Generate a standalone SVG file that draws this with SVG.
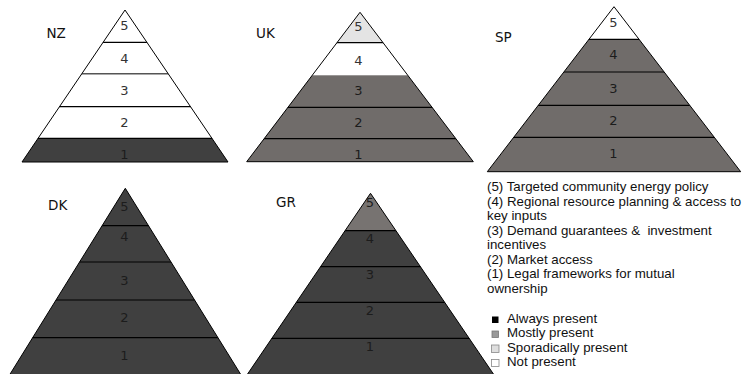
<svg xmlns="http://www.w3.org/2000/svg" width="745" height="374" viewBox="0 0 745 374">
<style>
.w{fill:#ffffff}.d{fill:#404040}.m{fill:#706c6a}.l{fill:#e4e4e4}.g{fill:#777371}
.b{stroke:#000;stroke-width:1.2;fill:none}
.o{stroke:#000;stroke-width:1;fill:none;stroke-linejoin:miter}
.n{font-family:"DejaVu Sans",sans-serif;font-size:13px;text-anchor:middle;fill:#333}
.nd{fill:#1c1c1c}
.c{font-family:"DejaVu Sans",sans-serif;font-size:13.5px;fill:#111}
.t{font-family:"Liberation Sans",Arial,sans-serif;font-size:13.3px;fill:#111}
</style>
<defs>
<clipPath id="cNZ"><polygon points="125,10 22,162 228,162"/></clipPath>
<clipPath id="cUK"><polygon points="360,12.3 246.7,161.7 473.3,161.7"/></clipPath>
<clipPath id="cSP"><polygon points="614,6.7 487.3,171.7 740.7,171.7"/></clipPath>
<clipPath id="cDK"><polygon points="125.3,188.3 6.4,380 244.2,380"/></clipPath>
<clipPath id="cGR"><polygon points="370.5,193.3 243.5,380 497.5,380"/></clipPath>
</defs>
<rect width="745" height="374" fill="#ffffff"/>

<g id="NZ">
<g clip-path="url(#cNZ)">
<rect class="w" x="0" y="0" width="250" height="138.3"/>
<rect class="d" x="0" y="138.3" width="250" height="30"/>
<line class="b" x1="0" y1="42.3" x2="250" y2="42.3"/>
<line x1="0" y1="73.7" x2="250" y2="73.7" stroke="#555" stroke-width="1.4"/>
<line class="b" x1="0" y1="106.7" x2="250" y2="106.7"/>
<line class="b" x1="0" y1="138.3" x2="250" y2="138.3"/>
</g>
<polygon class="o" points="125,10 22,162 228,162"/>
<text class="c" x="46.5" y="38">NZ</text>
<text class="n" x="124.5" y="30">5</text>
<text class="n" x="124.5" y="63">4</text>
<text class="n" x="124.5" y="95">3</text>
<text class="n" x="124.5" y="127">2</text>
<text class="n nd" x="124.5" y="159">1</text>
</g>

<g id="UK">
<g clip-path="url(#cUK)">
<rect class="l" x="240" y="0" width="240" height="42.7"/>
<rect class="w" x="240" y="42.7" width="240" height="32.6"/>
<rect class="m" x="240" y="75.3" width="240" height="90"/>
<line class="b" x1="240" y1="42.7" x2="480" y2="42.7"/>
<line class="b" x1="240" y1="107.3" x2="480" y2="107.3"/>
<line class="b" x1="240" y1="138.7" x2="480" y2="138.7"/>
</g>
<polygon class="o" points="360,12.3 246.7,161.7 473.3,161.7"/>
<text class="c" x="256" y="38">UK</text>
<text class="n" x="358.5" y="31">5</text>
<text class="n" x="358.5" y="64.5">4</text>
<text class="n nd" x="358.5" y="95">3</text>
<text class="n nd" x="358.5" y="127">2</text>
<text class="n nd" x="358.5" y="158.5">1</text>
</g>

<g id="SP">
<g clip-path="url(#cSP)">
<rect class="w" x="480" y="0" width="265" height="39.3"/>
<rect class="m" x="480" y="39.3" width="265" height="140"/>
<line class="b" x1="480" y1="39.3" x2="745" y2="39.3"/>
<line class="b" x1="480" y1="72" x2="745" y2="72"/>
<line class="b" x1="480" y1="105.3" x2="745" y2="105.3"/>
<line class="b" x1="480" y1="137.3" x2="745" y2="137.3"/>
</g>
<polygon class="o" points="614,6.7 487.3,171.7 740.7,171.7"/>
<text class="c" x="495" y="42">SP</text>
<text class="n" x="613.5" y="27">5</text>
<text class="n nd" x="613.5" y="58.5">4</text>
<text class="n nd" x="613.5" y="92.5">3</text>
<text class="n nd" x="613.5" y="124.5">2</text>
<text class="n nd" x="613.5" y="157.5">1</text>
</g>

<g id="DK">
<g clip-path="url(#cDK)">
<rect class="d" x="0" y="180" width="250" height="200"/>
<line class="b" x1="0" y1="225.7" x2="250" y2="225.7"/>
<line class="b" x1="0" y1="262" x2="250" y2="262"/>
<line class="b" x1="0" y1="300" x2="250" y2="300"/>
<line class="b" x1="0" y1="337.7" x2="250" y2="337.7"/>
</g>
<polygon class="o" points="125.3,188.3 6.4,380 244.2,380"/>
<text class="c" x="48" y="209.5">DK</text>
<text class="n nd" x="124.3" y="211">5</text>
<text class="n nd" x="124.3" y="240.5">4</text>
<text class="n nd" x="124.3" y="284.5">3</text>
<text class="n nd" x="124.3" y="322">2</text>
<text class="n nd" x="124.3" y="359.5">1</text>
</g>

<g id="GR">
<g clip-path="url(#cGR)">
<rect class="g" x="240" y="180" width="260" height="50.7"/>
<rect class="d" x="240" y="230.7" width="260" height="150"/>
<line class="b" x1="240" y1="230.7" x2="500" y2="230.7"/>
<line class="b" x1="240" y1="266.7" x2="500" y2="266.7"/>
<line class="b" x1="240" y1="302.3" x2="500" y2="302.3"/>
<line class="b" x1="240" y1="338.3" x2="500" y2="338.3"/>
</g>
<polygon class="o" points="370.5,193.3 243.5,380 497.5,380"/>
<text class="c" x="276" y="207">GR</text>
<text class="n nd" x="370" y="207">5</text>
<text class="n nd" x="370" y="243">4</text>
<text class="n nd" x="370" y="279">3</text>
<text class="n nd" x="370" y="315">2</text>
<text class="n nd" x="370" y="351">1</text>
</g>

<g id="legend">
<text class="t" x="487" y="191">(5) Targeted community energy policy</text>
<text class="t" x="487" y="205.5">(4) Regional resource planning &amp; access to</text>
<text class="t" x="487" y="220">key inputs</text>
<text class="t" x="487" y="234.5" xml:space="preserve">(3) Demand guarantees &amp;  investment</text>
<text class="t" x="487" y="249">incentives</text>
<text class="t" x="487" y="263.5">(2) Market access</text>
<text class="t" x="487" y="278">(1) Legal frameworks for mutual</text>
<text class="t" x="487" y="292.5">ownership</text>
<rect x="492" y="316.5" width="6.5" height="6.5" fill="#000"/>
<text class="t" x="507" y="322.5">Always present</text>
<rect x="492" y="331" width="6.5" height="6.5" fill="#999" stroke="#777" stroke-width="0.8"/>
<text class="t" x="507" y="337">Mostly present</text>
<rect x="491.5" y="345" width="7.5" height="7.5" fill="#dedede" stroke="#888" stroke-width="0.8"/>
<text class="t" x="507" y="351.5">Sporadically present</text>
<rect x="491.5" y="359.5" width="7.5" height="7" fill="#fff" stroke="#888" stroke-width="0.8"/>
<text class="t" x="507" y="366">Not present</text>
</g>
</svg>
